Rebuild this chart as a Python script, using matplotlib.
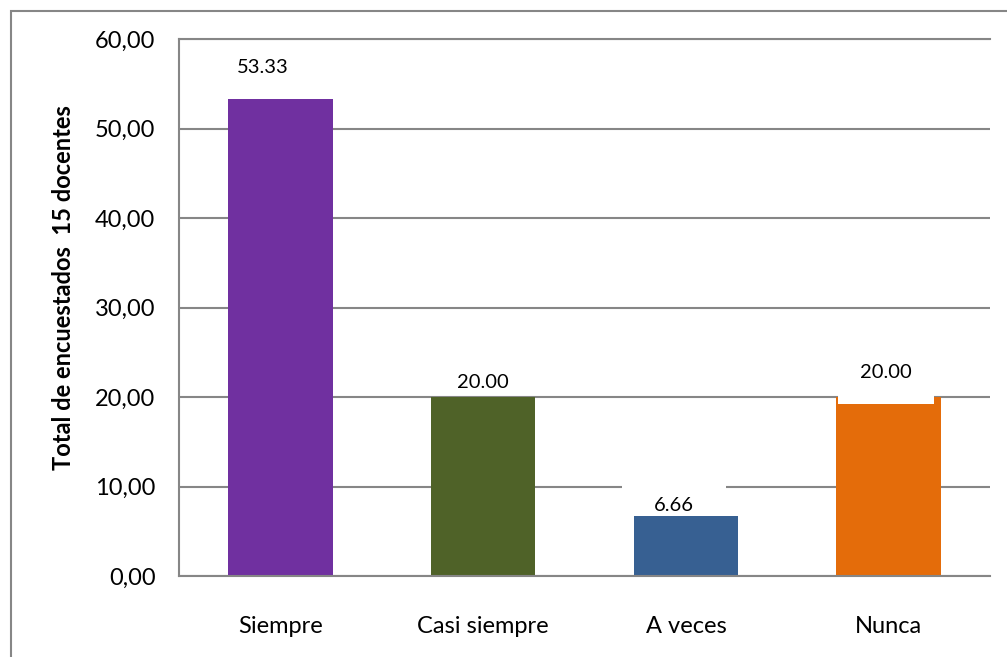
import matplotlib.pyplot as plt
from matplotlib.patches import Rectangle
from matplotlib.ticker import FuncFormatter

# datos
categorias = ['Siempre', 'Casi siempre', 'A veces', 'Nunca']
porcentajes = [53.33, 20.00, 6.66, 20.00]
etiquetas = ['53.33', '20.00', '6.66', '20.00']
colores = ['#7030A0', '#4F6228', '#376092', '#E46C0A']

# desplazamiento de las etiquetas (px), relleno de su caja blanca y orden de dibujo
desp_x = [-18, 0, -12, -3]
desp_y = [31, 14, 11, 24]
relleno = [0.1, 0.1, 1.6, 1.1]
orden = [4, 4, 1.5, 4]

plt.rcParams['font.family'] = ['Lato', 'DejaVu Sans']

fig = plt.figure(figsize=(10.07, 6.57), dpi=100)
W, H = 1007, 657
ax = fig.add_axes([179 / W, 1 - 576 / H, (990 - 179) / W, (576 - 39) / H])

gris = '#868686'
x = range(len(categorias))
ax.bar(x, porcentajes, width=0.515, color=colores, zorder=2)

for i, v in enumerate(porcentajes):
    ax.annotate(etiquetas[i], xy=(i, v), xytext=(desp_x[i] * 0.72, desp_y[i] * 0.72),
                textcoords='offset points', ha='center', va='center', fontsize=14.5,
                color='black', zorder=orden[i],
                bbox=dict(boxstyle=f'square,pad={relleno[i]}', facecolor='white', edgecolor='none'))

ax.set_xlim(-0.5, 3.5)
ax.set_ylim(0, 60)
ax.set_yticks(range(0, 61, 10))
ax.yaxis.set_major_formatter(FuncFormatter(lambda v, p: f'{v:.2f}'.replace('.', ',')))
ax.set_xticks(list(x))
ax.set_xticklabels(categorias)
ax.tick_params(axis='y', length=0, pad=17, labelsize=17)
ax.tick_params(axis='x', length=0, pad=29, labelsize=17)

ax.grid(axis='y', color=gris, linewidth=1.5)
ax.set_axisbelow(True)
for lado in ['left', 'bottom', 'top']:
    ax.spines[lado].set_color(gris)
    ax.spines[lado].set_linewidth(1.5)
ax.spines['right'].set_visible(False)

ax.set_ylabel('Total de encuestados  15 docentes', fontsize=17, fontweight='bold')
ax.yaxis.set_label_coords(-0.128, 0.538)

# marco exterior
fig.patches.append(Rectangle((11 / W, -0.05), 1.1, 1 - 11 / H + 0.05, transform=fig.transFigure,
                             fill=False, edgecolor=gris, linewidth=1.5))

fig.savefig('out.png', dpi=100)
